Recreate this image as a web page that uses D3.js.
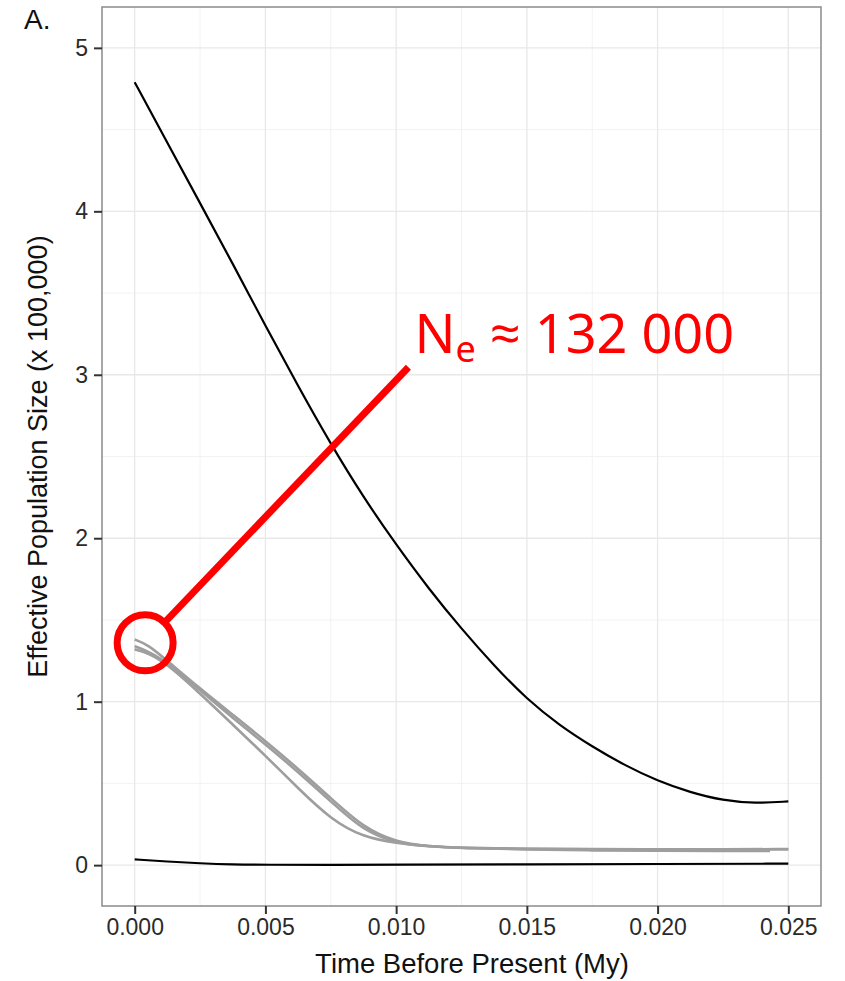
<!DOCTYPE html>
<html>
<head>
<meta charset="utf-8">
<script src="https://cdn.jsdelivr.net/npm/d3@7"></script>
<style>
  body { margin: 0; background: #fff; }
  svg { display: block; }
</style>
</head>
<body>
<svg id="chart" width="845" height="981"></svg>
<script>
// Skyline-style effective population size trajectories (time in My, Ne in units of 100,000)
const upperTimes = [0, 0.00125, 0.0025, 0.00375, 0.005, 0.00625, 0.0075, 0.00875, 0.010, 0.01125,
                    0.0125, 0.01375, 0.015, 0.01625, 0.0175, 0.01875, 0.020, 0.02125, 0.0225, 0.02375, 0.025];
const upperNe = [4.79, 4.42, 4.05, 3.68, 3.30, 2.93, 2.575, 2.25, 1.96, 1.69,
                 1.445, 1.22, 1.015, 0.855, 0.725, 0.61, 0.515, 0.445, 0.395, 0.377, 0.39];

const lowerTimes = [0, 0.00125, 0.0025, 0.00375, 0.005, 0.0075, 0.010, 0.015, 0.020, 0.025];
const lowerNe = [0.035, 0.022, 0.011, 0.004, 0.002, 0.002, 0.003, 0.005, 0.007, 0.009];

const grayTimes = [0, 0.0005, 0.00125, 0.0025, 0.00375, 0.005, 0.00625, 0.0075, 0.00875, 0.010,
                   0.01125, 0.0125, 0.015, 0.0175, 0.020, 0.0225, 0.025];
const grayTimesShort = [0, 0.0005, 0.00125, 0.0025, 0.00375, 0.005, 0.00625, 0.0075, 0.00875, 0.010,
                        0.01125, 0.0125, 0.015, 0.0175, 0.020, 0.0225, 0.0243];
const grayRunA = [1.38, 1.35, 1.25, 1.08, 0.92, 0.76, 0.59, 0.41, 0.23, 0.14,
                  0.115, 0.105, 0.100, 0.097, 0.096, 0.096, 0.097];
const grayRunB = [1.34, 1.31, 1.24, 1.07, 0.90, 0.74, 0.57, 0.39, 0.21, 0.135,
                  0.113, 0.104, 0.099, 0.098, 0.097, 0.097, 0.098];
const grayRunC = [1.32, 1.30, 1.23, 1.05, 0.86, 0.67, 0.47, 0.28, 0.17, 0.135,
                  0.115, 0.105, 0.095, 0.090, 0.088, 0.087, 0.087];

const xTicks = [0, 0.005, 0.010, 0.015, 0.020, 0.025];
const xMinor = [0.0025, 0.0075, 0.0125, 0.0175, 0.0225];
const yTicks = [0, 1, 2, 3, 4, 5];
const yMinor = [0.5, 1.5, 2.5, 3.5, 4.5];

// Callout: recent Ne estimate
const neEstimate = 132000;
const calloutCenter = [0.0004, 1.36];
const calloutEnd = [0.01047, 3.046];

const svg = d3.select("#chart");
const panel = { left: 102, right: 821, top: 7, bottom: 906 };

const x = d3.scaleLinear().domain([-0.00125, 0.02625]).range([panel.left, panel.right]);
const y = d3.scaleLinear().domain([-0.25, 5.25]).range([panel.bottom, panel.top]);

// Panel background and grid
svg.append("rect")
  .attr("x", panel.left).attr("y", panel.top)
  .attr("width", panel.right - panel.left).attr("height", panel.bottom - panel.top)
  .attr("fill", "#fff");

const grid = svg.append("g");
grid.selectAll(".vminor").data(xMinor).join("line")
  .attr("x1", d => x(d)).attr("x2", d => x(d))
  .attr("y1", panel.top).attr("y2", panel.bottom)
  .attr("stroke", "#f2f2f2").attr("stroke-width", 1);
grid.selectAll(".hminor").data(yMinor).join("line")
  .attr("y1", d => y(d)).attr("y2", d => y(d))
  .attr("x1", panel.left).attr("x2", panel.right)
  .attr("stroke", "#f2f2f2").attr("stroke-width", 1);
grid.selectAll(".vmajor").data(xTicks).join("line")
  .attr("x1", d => x(d)).attr("x2", d => x(d))
  .attr("y1", panel.top).attr("y2", panel.bottom)
  .attr("stroke", "#e8e8e8").attr("stroke-width", 1.3);
grid.selectAll(".hmajor").data(yTicks).join("line")
  .attr("y1", d => y(d)).attr("y2", d => y(d))
  .attr("x1", panel.left).attr("x2", panel.right)
  .attr("stroke", "#e8e8e8").attr("stroke-width", 1.3);

// Trajectories
const line = d3.line()
  .x(d => x(d[0])).y(d => y(d[1]))
  .curve(d3.curveBasis);
const zipSeries = (t, v) => t.map((d, i) => [d, v[i]]);

const grayRuns = [
  zipSeries(grayTimes, grayRunA),
  zipSeries(grayTimes, grayRunB),
  zipSeries(grayTimesShort, grayRunC)
];
svg.append("g").selectAll("path").data(grayRuns).join("path")
  .attr("d", line)
  .attr("fill", "none").attr("stroke", "#9e9e9e").attr("stroke-width", 2.6)
  .attr("stroke-linejoin", "round");

svg.append("g").selectAll("path")
  .data([zipSeries(upperTimes, upperNe), zipSeries(lowerTimes, lowerNe)])
  .join("path")
  .attr("d", line)
  .attr("fill", "none").attr("stroke", "#000").attr("stroke-width", 2.2)
  .attr("stroke-linejoin", "round");

// Panel border
svg.append("rect")
  .attr("x", panel.left).attr("y", panel.top)
  .attr("width", panel.right - panel.left).attr("height", panel.bottom - panel.top)
  .attr("fill", "none").attr("stroke", "#8a8a8a").attr("stroke-width", 1.5);

// Axes
const axisFont = "'Liberation Sans', Arial, Helvetica, sans-serif";
const xAxis = svg.append("g")
  .attr("transform", `translate(0,${panel.bottom})`)
  .call(d3.axisBottom(x).tickValues(xTicks).tickFormat(d3.format(".3f")).tickSize(8).tickPadding(5));
const yAxis = svg.append("g")
  .attr("transform", `translate(${panel.left},0)`)
  .call(d3.axisLeft(y).tickValues(yTicks).tickFormat(d3.format("d")).tickSize(8).tickPadding(6));
[xAxis, yAxis].forEach(a => {
  a.select(".domain").remove();
  a.selectAll(".tick line").attr("stroke", "#333").attr("stroke-width", 2);
  a.selectAll(".tick text")
    .attr("fill", "#2a2a2a")
    .style("font-family", axisFont)
    .style("font-size", "23px");
});

svg.append("text")
  .attr("x", 472).attr("y", 973)
  .attr("text-anchor", "middle")
  .style("font-family", axisFont).style("font-size", "27.5px").attr("fill", "#111")
  .text("Time Before Present (My)");

svg.append("text")
  .attr("transform", `translate(47,${(panel.top + panel.bottom) / 2}) rotate(-90)`)
  .attr("text-anchor", "middle")
  .style("font-family", axisFont).style("font-size", "27px").attr("fill", "#111")
  .text("Effective Population Size (x 100,000)");

svg.append("text")
  .attr("x", 24).attr("y", 29)
  .style("font-family", axisFont).style("font-size", "28px").attr("fill", "#111")
  .text("A.");

// Red callout
const red = "#ff0000";
const cx = x(calloutCenter[0]), cy = y(calloutCenter[1]);
const ex = x(calloutEnd[0]), ey = y(calloutEnd[1]);
const r = 28;
const len = Math.hypot(ex - cx, ey - cy);
const ux = (ex - cx) / len, uy = (ey - cy) / len;

const callout = svg.append("g");
callout.append("circle")
  .attr("cx", cx).attr("cy", cy).attr("r", r)
  .attr("fill", "none").attr("stroke", red).attr("stroke-width", 7);
callout.append("line")
  .attr("x1", cx + ux * r).attr("y1", cy + uy * r)
  .attr("x2", ex).attr("y2", ey)
  .attr("stroke", red).attr("stroke-width", 7);

const label = callout.append("text")
  .attr("x", ex + 6).attr("y", ey - 14)
  .style("font-family", "'Noto Sans', 'Open Sans', sans-serif")
  .style("font-size", "54px").attr("fill", red);
label.append("tspan").text("N");
label.append("tspan").attr("dy", 9).style("font-size", "36px").text("e");
label.append("tspan").attr("dy", -9)
  .text(" \u2248 " + d3.format(",")(neEstimate).replace(/,/g, " "));
</script>
</body>
</html>
